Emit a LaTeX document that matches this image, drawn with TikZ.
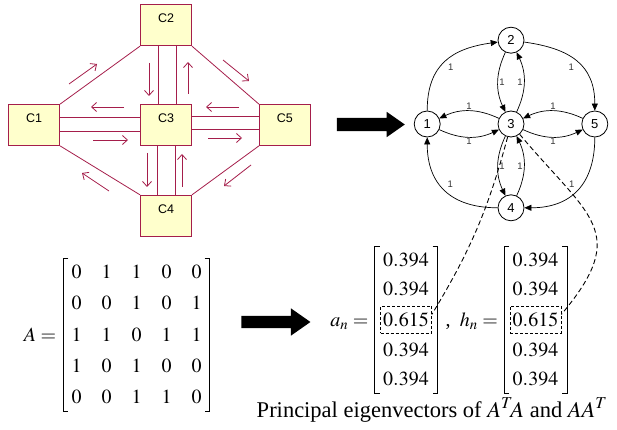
\documentclass[tikz,border=0pt]{standalone}
\usepackage{amsmath}
\usepackage{mathptmx}
\usepackage{fontspec}
\setmainfont{Liberation Serif}
\newfontfamily\arialfont{Liberation Sans}
\usepackage{xcolor}
\usepackage{tikz}
\usetikzlibrary{arrows.meta,positioning,matrix,shapes.arrows}

\definecolor{vinho}{RGB}{165,30,75}
\definecolor{creme}{RGB}{255,255,204}

\begin{document}
\begin{tikzpicture}[
    x=1pt, y=1pt,
    font=\fontsize{20}{24}\selectfont,
    classe/.style={draw=vinho, fill=creme, line width=0.8pt, minimum width=51pt,
        minimum height=41pt, inner sep=4pt, text height=14pt, text depth=19pt,
        font=\arialfont\fontsize{12.5}{14}\selectfont},
    ligacao/.style={vinho, line width=0.8pt},
    fluxo/.style={vinho, line width=0.8pt, -{Straight Barb[length=5pt,width=9pt]}},
    vertice/.style={draw, circle, minimum size=26pt, inner sep=0pt, line width=0.8pt,
        font=\arialfont\fontsize{13}{15}\selectfont},
    aresta/.style={line width=0.7pt, -{Triangle[length=7pt,width=6pt]}},
    peso/.style={font=\arialfont\fontsize{9.5}{11}\selectfont, text=black!80, inner sep=1pt},
    seta/.style={single arrow, fill=black, inner xsep=0pt, inner ysep=6.5pt,
        minimum height=68pt, minimum width=25pt, single arrow head extend=6pt,
        single arrow tip angle=70},
    vetor/.style={matrix of math nodes, nodes={minimum width=51pt, minimum height=27pt,
        inner sep=0pt}, row sep=2.75pt, inner xsep=5.5pt, inner ysep=0pt},
    destaque/.style={draw, densely dashed, line width=0.6pt},
    colchete/.style={line width=0.8pt},
    referencia/.style={line width=0.9pt, dash pattern=on 5pt off 3pt}
]
    \useasboundingbox (0,0) rectangle (617,-430);

    % componentes
    \node[classe] (c3) at (166,-125) {C3};
    \node[classe, above=58pt of c3] (c2) {C2};
    \node[classe, below=49pt of c3] (c4) {C4};
    \node[classe, left=80pt of c3] (c1) {C1};
    \node[classe, right=67pt of c3] (c5) {C5};

    \draw[ligacao] (c2.south west) -- (c1.north east);
    \draw[ligacao] (c2.south east) -- (c5.north west);
    \draw[ligacao] (c1.south east) -- (c4.north west);
    \draw[ligacao] (c5.south west) -- (c4.north east);
    \draw[ligacao] ([xshift=-8pt]c2.south) -- ([xshift=-8pt]c3.north);
    \draw[ligacao] ([xshift=10pt]c2.south) -- ([xshift=10pt]c3.north);
    \draw[ligacao] ([xshift=-9pt]c3.south) -- ([xshift=-9pt]c4.north);
    \draw[ligacao] ([xshift=9pt]c3.south) -- ([xshift=9pt]c4.north);
    \draw[ligacao] ([yshift=8pt]c1.east) -- ([yshift=8pt]c3.west);
    \draw[ligacao] ([yshift=-6pt]c1.east) -- ([yshift=-6pt]c3.west);
    \draw[ligacao] ([yshift=9pt]c3.east) -- ([yshift=9pt]c5.west);
    \draw[ligacao] ([yshift=-4pt]c3.east) -- ([yshift=-4pt]c5.west);

    \draw[fluxo] (69,-84) -- (97,-64);
    \draw[fluxo] (223,-60) -- (249,-81);
    \draw[fluxo] (109,-191) -- (82,-173);
    \draw[fluxo] (251,-165) -- (224,-186);
    \draw[fluxo] (149,-63) -- (149,-96);
    \draw[fluxo] (188,-94) -- (188,-62);
    \draw[fluxo] (147,-153) -- (147,-187);
    \draw[fluxo] (182,-187) -- (182,-154);
    \draw[fluxo] (124,-107) -- (91,-107);
    \draw[fluxo] (93,-140) -- (128,-140);
    \draw[fluxo] (239,-107) -- (206,-107);
    \draw[fluxo] (208,-138) -- (242,-138);

    \node[seta] (seta1) at (366,-124.5) {};

    % grafo
    \node[vertice] (n3) at (511,-124) {3};
    \node[vertice, left=57pt of n3] (n1) {1};
    \node[vertice, above=57pt of n3] (n2) {2};
    \node[vertice, right=57pt of n3] (n5) {5};
    \node[vertice, below=57pt of n3] (n4) {4};

    \draw[aresta] (n1) to[out=90, in=188, looseness=1.2] node[peso, below right=2pt] {1} (n2);
    \draw[aresta] (n2) to[out=-8, in=90, looseness=1.2] node[peso, below left=2pt] {1} (n5);
    \draw[aresta] (n5) to[out=-90, in=0, looseness=1.2] node[peso, above left=2pt] {1} (n4);
    \draw[aresta] (n4) to[out=180, in=-90, looseness=1.2] node[peso, above right=2pt] {1} (n1);
    \draw[aresta] (n3) to[bend right=25] node[peso, above] {1} (n1);
    \draw[aresta] (n1) to[bend right=25] node[peso, below] {1} (n3);
    \draw[aresta] (n5) to[bend right=25] node[peso, above] {1} (n3);
    \draw[aresta] (n3) to[bend right=25] node[peso, below] {1} (n5);
    \draw[aresta] (n2) to[bend right=25] node[peso, right] {1} (n3);
    \draw[aresta] (n3) to[bend right=25] node[peso, left] {1} (n2);
    \draw[aresta] (n3) to[bend right=25] node[peso, right] {1} (n4);
    \draw[aresta] (n4) to[bend right=25] node[peso, left] {1} (n3);

    % matriz de adjacencia
    \matrix (mA) [matrix of math nodes, nodes={minimum width=12pt, minimum height=20pt,
        inner sep=0pt}, column sep=18pt, row sep=11pt, inner xsep=7pt, inner ysep=4pt]
        at (136.5,-334.5) {
        0 & 1 & 1 & 0 & 0\\
        0 & 0 & 1 & 0 & 1\\
        1 & 1 & 0 & 1 & 1\\
        1 & 0 & 1 & 0 & 0\\
        0 & 0 & 1 & 1 & 0\\
    };
    \node[anchor=base east, inner sep=0pt] (lA) at ([xshift=-7pt]mA-3-1.base -| mA.west) {$A=$};

    \node[seta, inner ysep=6pt, minimum width=27pt, minimum height=69pt,
        single arrow head extend=7.5pt] (seta2) at (271.5,-322) {};

    % autovetores
    \matrix (va) [vetor] at (406,-319.5) {
        0.394\\ 0.394\\ |[destaque]| 0.615\\ 0.394\\ 0.394\\
    };
    \matrix (vh) [vetor] at (535.5,-319.5) {
        0.394\\ 0.394\\ |[destaque]| 0.615\\ 0.394\\ 0.394\\
    };
    \node[anchor=base east, inner sep=0pt] (la) at ([xshift=-6pt]va-3-1.base -| va.west) {$a_n=$};
    \node[anchor=base west, inner sep=0pt] (virgula) at ([xshift=8pt]va-3-1.base -| va.east) {,};
    \node[anchor=base east, inner sep=0pt] (lh) at ([xshift=-6pt]vh-3-1.base -| vh.west) {$h_n=$};

    \foreach \m in {mA,va,vh} {
        \draw[colchete] ([xshift=5pt]\m.north west) -- (\m.north west) -- (\m.south west)
            -- ([xshift=5pt]\m.south west);
        \draw[colchete] ([xshift=-5pt]\m.north east) -- (\m.north east) -- (\m.south east)
            -- ([xshift=-5pt]\m.south east);
    }

    \draw[referencia] (n3) to[bend left=8] ([yshift=5pt]va-3-1.east);
    \draw[referencia] (n3) to[out=-50, in=50, looseness=1.5] ([yshift=5pt]vh-3-1.east);

    \node[font=\fontsize{22.5}{26}\selectfont] (legenda) at (432,-410)
        {Principal eigenvectors of $A^T\!A$ and $AA^T$};
\end{tikzpicture}
\end{document}
